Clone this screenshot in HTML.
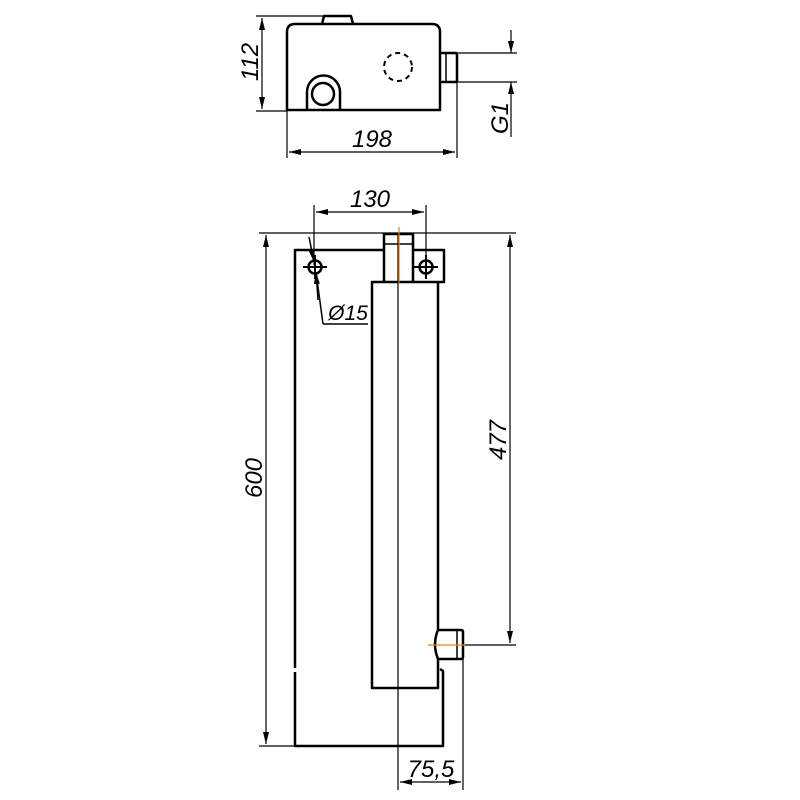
<!DOCTYPE html>
<html><head><style>body{margin:0;background:#fff}svg{display:block}</style></head><body>
<svg width="800" height="800" viewBox="0 0 800 800" xmlns="http://www.w3.org/2000/svg">
<defs>
<marker id="a" viewBox="0 0 12 6" refX="12" refY="3" markerWidth="12" markerHeight="6" markerUnits="userSpaceOnUse" orient="auto-start-reverse"><path d="M0,0 L12,3 L0,6 Z" fill="#000"/></marker>
</defs>
<g fill="none" stroke="#000" stroke-width="2.5" stroke-linejoin="round">
<path d="M287,110 L287,32 Q287,24 295,24 L432,24 Q440,24 440,32 L440,110 Z"/>
<path d="M322,24 L324,16 L351,16 L353,24"/>
<path d="M307,110 L307,92 A16,16 0 0 1 340,92 L340,110" />
<circle cx="323" cy="94" r="11"/>
<circle cx="398" cy="67" r="14" stroke-dasharray="5,4" stroke-width="2"/>
<path d="M440,53 L456,53 L457,55 L457,81 L456,82 L440,82"/>
<path d="M446,54 L446,81" stroke-width="1.5"/>
<path d="M295,668 L295,250 L384,250"/>
<path d="M295,672 L295,746 L443,746 L443,671 L440,669"/>
<path d="M413,250 L444,250 L444,282 L413,282"/>
<path d="M384,282 L384,234 L413,234 L413,282"/>
<path d="M384,244 L413,244" stroke-width="1.5"/>
<path d="M413,282 L372,282 L372,688 L438,688 L438,659 L461,659 Q463,659 463,657 L463,632 Q463,630 461,630 L438,630 Q432,644 438,659 M438,630 L438,282"/>
<path d="M457,631 L457,658" stroke-width="1.5"/>
<circle cx="315" cy="267" r="6.5"/>
<circle cx="426" cy="267" r="6.5"/>
</g>
<g stroke="#000" stroke-width="1.2" fill="none">
<path d="M303,267 L327,267 M315,255 L315,279 M414,267 L438,267 M426,255 L426,279" stroke-width="2"/>
<path d="M256,16 L350,16 M256,111 L287,111"/>
<path d="M262,18 L262,109" marker-start="url(#a)" marker-end="url(#a)"/>
<path d="M287,111 L287,158 M457,82 L457,158"/>
<path d="M289,152 L455,152" marker-start="url(#a)" marker-end="url(#a)"/>
<path d="M457,53 L517,53 M457,82 L517,82"/>
<path d="M511,30 L511,53" marker-end="url(#a)"/>
<path d="M511,137 L511,82" marker-end="url(#a)"/>
<path d="M314,205 L314,265 M426,205 L426,262"/>
<path d="M316,212 L424,212" marker-start="url(#a)" marker-end="url(#a)"/>
<path d="M259,233 L516,233 M259,746 L295,746"/>
<path d="M266,235 L266,744" marker-start="url(#a)" marker-end="url(#a)"/>
<path d="M463,645 L516,645"/>
<path d="M510,235 L510,643" marker-start="url(#a)" marker-end="url(#a)"/>
<path d="M398,233 L398,790 M463,659 L463,790"/>
<path d="M400,782 L461,782" marker-start="url(#a)" marker-end="url(#a)"/>
<path d="M309,237 L314,262" stroke-width="1.5" marker-end="url(#a)"/>
<path d="M323,324 L316,272 M323,324 L368,324" stroke-width="1.5"/>
<path d="M318,300 L316,272" stroke-width="1.5" marker-end="url(#a)"/>
</g>
<g stroke="#f08000" stroke-width="1.2">
<path d="M399,227 L399,283 M428,645 L465,645"/>
</g>
<g font-family="Liberation Sans, sans-serif" font-style="italic" font-size="24" fill="#000" text-anchor="middle">
<text x="372" y="147">198</text>
<text x="370" y="207">130</text>
<text x="348" y="320" font-size="21">Ø15</text>
<text x="431" y="777">75,5</text>
<text transform="translate(258,62) rotate(-90)">112</text>
<text transform="translate(508,118) rotate(-90)">G1</text>
<text transform="translate(262,478) rotate(-90)">600</text>
<text transform="translate(506,440) rotate(-90)">477</text>
</g>
</svg>
</body></html>
